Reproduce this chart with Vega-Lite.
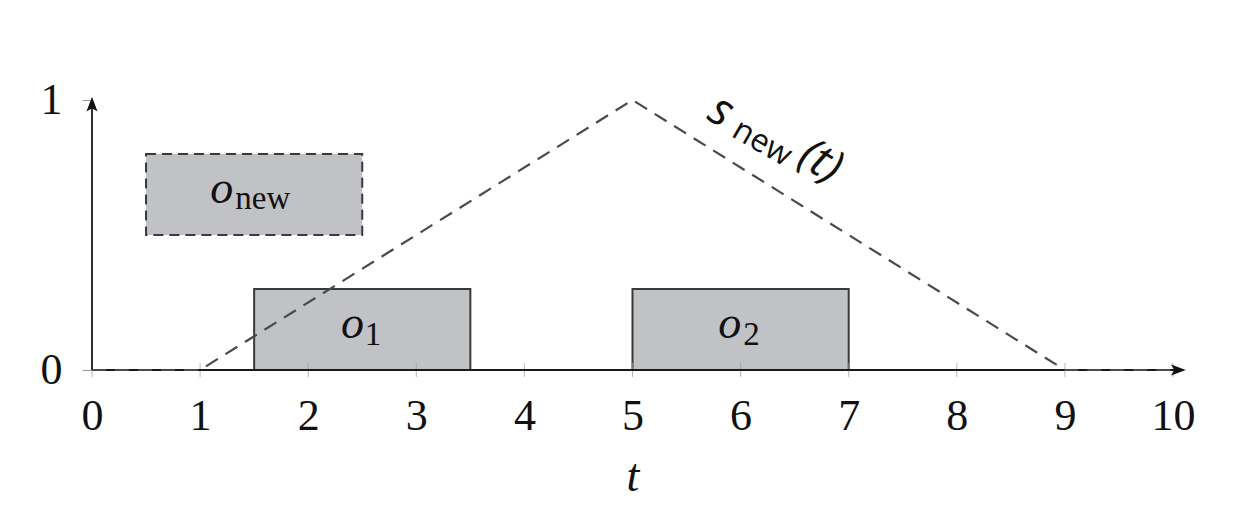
{
  "$schema": "https://vega.github.io/schema/vega-lite/v6.json",
  "width": 1081,
  "height": 270,
  "autosize": "none",
  "padding": {"left": 92, "top": 100, "right": 87, "bottom": 155},
  "background": "white",
  "config": {"view": {"stroke": null}},
  "datasets": {
    "axes": [
      {"x": 0, "y": 0, "x2": 10.08, "y2": 0},
      {"x": 0, "y": 0, "x2": 0, "y2": 0.99}
    ],
    "xarrow": [{"x": 10.05, "y": 0}],
    "yarrow": [{"x": 0, "y": 0.985}],
    "ticks": [
      {"t": 0}, {"t": 1}, {"t": 2}, {"t": 3}, {"t": 4}, {"t": 5},
      {"t": 6}, {"t": 7}, {"t": 8}, {"t": 9}, {"t": 10}
    ],
    "solid": [
      {"name": "o1", "x": 1.5, "x2": 3.5, "y": 0, "y2": 0.3},
      {"name": "o2", "x": 5, "x2": 7, "y": 0, "y2": 0.3}
    ],
    "dashed": [
      {"name": "onew", "x": 0.5, "x2": 2.5, "y": 0.5, "y2": 0.8}
    ],
    "snew": [
      {"t": 0, "s": 0},
      {"t": 1, "s": 0},
      {"t": 5, "s": 1},
      {"t": 9, "s": 0},
      {"t": 10, "s": 0}
    ],
    "labels": [
      {"role": "math", "text": "o", "x": 1.2, "y": 0.619},
      {"role": "sub", "text": "new", "x": 1.58, "y": 0.595},
      {"role": "math", "text": "o", "x": 2.41, "y": 0.119},
      {"role": "sub", "text": "1", "x": 2.6, "y": 0.093},
      {"role": "math", "text": "o", "x": 5.9, "y": 0.119},
      {"role": "sub", "text": "2", "x": 6.1, "y": 0.093},
      {"role": "sans", "text": "s", "x": 5.82, "y": 0.958},
      {"role": "sanssub", "text": "new", "x": 6.2, "y": 0.842},
      {"role": "sans", "text": "(t)", "x": 6.74, "y": 0.772}
    ]
  },
  "layer": [
    {
      "data": {"name": "solid"},
      "mark": {"type": "rect", "fill": "#c1c2c5", "stroke": "#3a3a3a", "strokeWidth": 2},
      "encoding": {
        "x": {
          "field": "x", "type": "quantitative",
          "scale": {"domain": [0, 10], "nice": false, "zero": false},
          "axis": {
            "values": [0, 1, 2, 3, 4, 5, 6, 7, 8, 9, 10], "format": "d",
            "domain": false, "ticks": false, "grid": false,
            "labelFont": "Liberation Serif", "labelFontSize": 44, "labelColor": "#111",
            "labelPadding": 24, "labelFlush": false, "labelOverlap": false,
            "title": "t", "titleFont": "Liberation Serif", "titleFontSize": 46,
            "titleFontStyle": "italic", "titleFontWeight": "normal", "titleColor": "#111",
            "titlePadding": 16
          }
        },
        "x2": {"field": "x2"},
        "y": {
          "field": "y", "type": "quantitative",
          "scale": {"domain": [0, 1], "nice": false},
          "axis": {
            "values": [0, 1], "format": "d",
            "domain": false, "ticks": true, "tickSize": 10, "tickColor": "#999", "tickWidth": 1,
            "grid": false,
            "labelFont": "Liberation Serif", "labelFontSize": 44, "labelColor": "#111",
            "labelPadding": 20, "labelBaseline": "middle", "labelFlush": false,
            "title": null
          }
        },
        "y2": {"field": "y2"}
      }
    },
    {
      "data": {"name": "dashed"},
      "mark": {"type": "rect", "fill": "#c1c2c5", "stroke": "#3a3a3a", "strokeWidth": 2, "strokeDash": [10, 6]},
      "encoding": {
        "x": {"field": "x", "type": "quantitative"},
        "x2": {"field": "x2"},
        "y": {"field": "y", "type": "quantitative"},
        "y2": {"field": "y2"}
      }
    },
    {
      "data": {"name": "ticks"},
      "mark": {"type": "tick", "orient": "vertical", "color": "#999", "size": 14, "thickness": 1},
      "encoding": {
        "x": {"field": "t", "type": "quantitative"},
        "y": {"datum": 0, "type": "quantitative"}
      }
    },
    {
      "data": {"name": "axes"},
      "mark": {"type": "rule", "color": "#1a1a1a", "strokeWidth": 1.8},
      "encoding": {
        "x": {"field": "x", "type": "quantitative"},
        "x2": {"field": "x2"},
        "y": {"field": "y", "type": "quantitative"},
        "y2": {"field": "y2"}
      }
    },
    {
      "data": {"name": "snew"},
      "mark": {"type": "line", "color": "#4a4a4a", "strokeWidth": 2.2, "strokeDash": [14, 9]},
      "encoding": {
        "x": {"field": "t", "type": "quantitative"},
        "y": {"field": "s", "type": "quantitative"}
      }
    },
    {
      "data": {"name": "xarrow"},
      "mark": {"type": "point", "shape": "M1,0 L-1,-0.75 L-0.55,0 L-1,0.75 Z", "filled": true, "color": "#111", "size": 220, "opacity": 1},
      "encoding": {
        "x": {"field": "x", "type": "quantitative"},
        "y": {"field": "y", "type": "quantitative"}
      }
    },
    {
      "data": {"name": "yarrow"},
      "mark": {"type": "point", "shape": "M0,-1 L-0.75,1 L0,0.55 L0.75,1 Z", "filled": true, "color": "#111", "size": 220, "opacity": 1},
      "encoding": {
        "x": {"field": "x", "type": "quantitative"},
        "y": {"field": "y", "type": "quantitative"}
      }
    },
    {
      "data": {"name": "labels"},
      "transform": [{"filter": "datum.role === 'math'"}],
      "mark": {"type": "text", "font": "Liberation Serif", "fontStyle": "italic", "fontSize": 46, "color": "#111", "align": "center", "baseline": "alphabetic"},
      "encoding": {
        "x": {"field": "x", "type": "quantitative"},
        "y": {"field": "y", "type": "quantitative"},
        "text": {"field": "text"}
      }
    },
    {
      "data": {"name": "labels"},
      "transform": [{"filter": "datum.role === 'sub'"}],
      "mark": {"type": "text", "font": "Liberation Serif", "fontSize": 33, "color": "#111", "align": "center", "baseline": "alphabetic"},
      "encoding": {
        "x": {"field": "x", "type": "quantitative"},
        "y": {"field": "y", "type": "quantitative"},
        "text": {"field": "text"}
      }
    },
    {
      "data": {"name": "labels"},
      "transform": [{"filter": "datum.role === 'sans'"}],
      "mark": {"type": "text", "font": "Open Sans", "fontStyle": "italic", "fontSize": 46, "color": "#111", "align": "center", "baseline": "middle", "angle": 30},
      "encoding": {
        "x": {"field": "x", "type": "quantitative"},
        "y": {"field": "y", "type": "quantitative"},
        "text": {"field": "text"}
      }
    },
    {
      "data": {"name": "labels"},
      "transform": [{"filter": "datum.role === 'sanssub'"}],
      "mark": {"type": "text", "font": "Open Sans", "fontSize": 32, "color": "#111", "align": "center", "baseline": "middle", "angle": 30},
      "encoding": {
        "x": {"field": "x", "type": "quantitative"},
        "y": {"field": "y", "type": "quantitative"},
        "text": {"field": "text"}
      }
    }
  ]
}
